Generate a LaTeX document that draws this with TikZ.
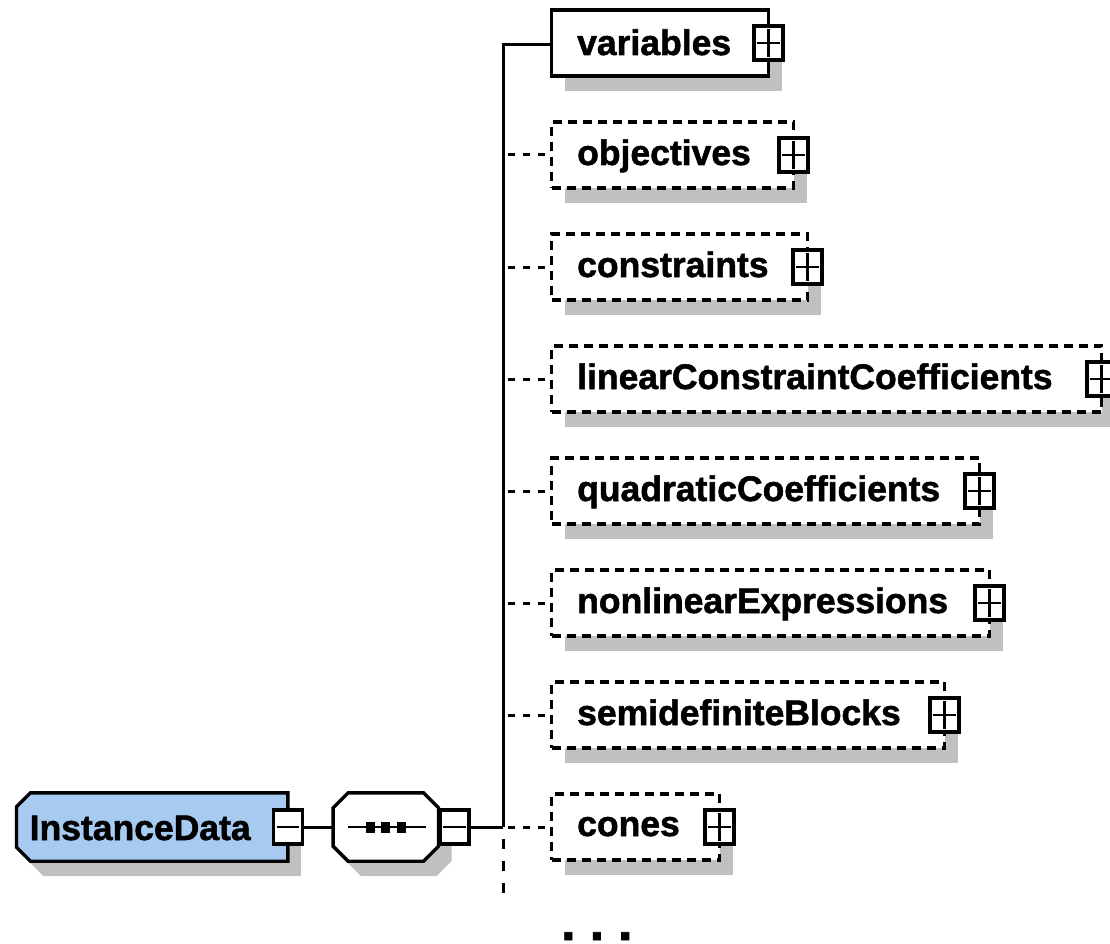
\documentclass[tikz,border=0pt]{standalone}
\usepackage{fontspec}
\setmainfont{Liberation Sans}[BoldFeatures={FakeBold=1.5}]
\usetikzlibrary{calc,shadows}

\definecolor{elemblue}{RGB}{166,202,240}
\definecolor{shadowgray}{RGB}{192,192,192}

\tikzset{
  boxline/.style={line width=3.4pt},
  conn/.style={line width=3pt},
  optconn/.style={conn, dash pattern=on 7pt off 8pt, dash phase=10pt},
  trunkdash/.style={conn, dash pattern=on 10pt off 12pt, dash phase=10pt},
  boxshadow/.style={drop shadow={shadow xshift=13pt, shadow yshift=-15pt, fill=shadowgray, opacity=1}},
  elembox/.style={draw, boxline, fill=white, rectangle, inner sep=0pt,
    minimum height=66pt, anchor=west, boxshadow},
  optional/.style={dash pattern=on 9pt off 6pt},
  lbl/.style={font=\fontsize{35.5}{35.5}\selectfont\bfseries, inner sep=0pt, anchor=base west},
  toggle/.style={draw, boxline, fill=white, rectangle, inner sep=0pt,
    minimum width=29pt, minimum height=34pt},
  sign/.style={line width=2.4pt},
  ghost/.style={rectangle, inner sep=0pt, draw=none},
}

% child element: name, centre y, right edge x, label, extra box style, baseline drop
\newcommand\childelem[6]{%
  \pgfmathsetmacro\boxw{#3-550}%
  \node[elembox,#5,minimum width=\boxw pt] (#1) at (550,#2) {};
  \node[lbl] (#1-text) at ($(#1.west)+(27,#6)$) {#4};
  \node[toggle] (#1-tog) at ($(#1.east)+(-2,0)$) {};
  \draw[sign] ($(#1-tog.west)+(5,0)$) -- ($(#1-tog.east)+(-5,0)$);
  \draw[sign] ($(#1-tog.north)+(0,5)$) -- ($(#1-tog.south)+(0,-5)$);
}

\begin{document}
\begin{tikzpicture}[x=1pt,y=-1pt]
\useasboundingbox (0,0) rectangle (1110,944);

% root element InstanceData
\node[ghost, minimum width=271pt, minimum height=68pt] (inst) at (152.2,827) {};
\filldraw[boxline, fill=elemblue, boxshadow]
  ($(inst.north west)+(14,0)$) -- (inst.north east) -- (inst.south east)
  -- ($(inst.south west)+(14,0)$) -- ($(inst.south west)+(0,-14)$)
  -- ($(inst.north west)+(0,14)$) -- cycle;
\node[lbl] (inst-text) at ($(inst.west)+(13,13)$) {InstanceData};
\node[toggle] (inst-tog) at (inst.east) {};
\draw[sign] ($(inst-tog.west)+(5,0)$) -- ($(inst-tog.east)+(-5,0)$);

% sequence compositor
\node[ghost, minimum width=105pt, minimum height=68pt] (seq) at (385.8,827) {};
\filldraw[boxline, fill=white, boxshadow]
  ($(seq.north west)+(15,0)$) -- ($(seq.north east)+(-15,0)$)
  -- ($(seq.north east)+(0,15)$) -- ($(seq.south east)+(0,-15)$)
  -- ($(seq.south east)+(-15,0)$) -- ($(seq.south west)+(15,0)$)
  -- ($(seq.south west)+(0,-15)$) -- ($(seq.north west)+(0,15)$) -- cycle;
\draw[sign, line width=2.8pt] ($(seq.west)+(15,0)$) -- ($(seq.east)+(-13,0)$);
\foreach \dx in {-15.5,0,15.5}
  \fill ($(seq.center)+(\dx-4.5,-5.5)$) rectangle ($(seq.center)+(\dx+4.5,5.5)$);
\node[toggle] (seq-tog) at ($(seq.east)+(16,0)$) {};
\draw[sign] ($(seq-tog.west)+(5,0)$) -- ($(seq-tog.east)+(-5,0)$);

% child elements
\childelem{vars}{43}{767}{variables}{}{12}
\childelem{obj}{155}{792}{objectives}{optional}{10}
\childelem{cons}{267}{806}{constraints}{optional}{10}
\childelem{lin}{379}{1100}{linearConstraintCoefficients}{optional}{10}
\childelem{quad}{491}{978}{quadraticCoefficients}{optional}{10}
\childelem{nonlin}{603}{988}{nonlinearExpressions}{optional}{10}
\childelem{sdp}{715}{943}{semidefiniteBlocks}{optional}{10}
\childelem{cones}{827}{718}{cones}{optional}{9}

% connectors
\coordinate (split) at (503,827);
\coordinate (trunk-end) at (503,898);
\draw[conn] (inst-tog.east) -- (seq.west);
\draw[conn] (seq-tog.east) -- (split);
\draw[conn] ($(vars.west)+(0,2)$) -| (split);
\draw[trunkdash] (split) -- (trunk-end);
\foreach \c in {obj,cons,lin,quad,nonlin,sdp,cones}
  \draw[optconn] (\c.west -| split) -- (\c.west);

% further content continues below
\node[font=\fontsize{52}{52}\selectfont\bfseries, inner sep=0pt, anchor=base west]
  (more) at (561,940) {.\hspace{14pt}.\hspace{14pt}.};
\end{tikzpicture}
\end{document}
